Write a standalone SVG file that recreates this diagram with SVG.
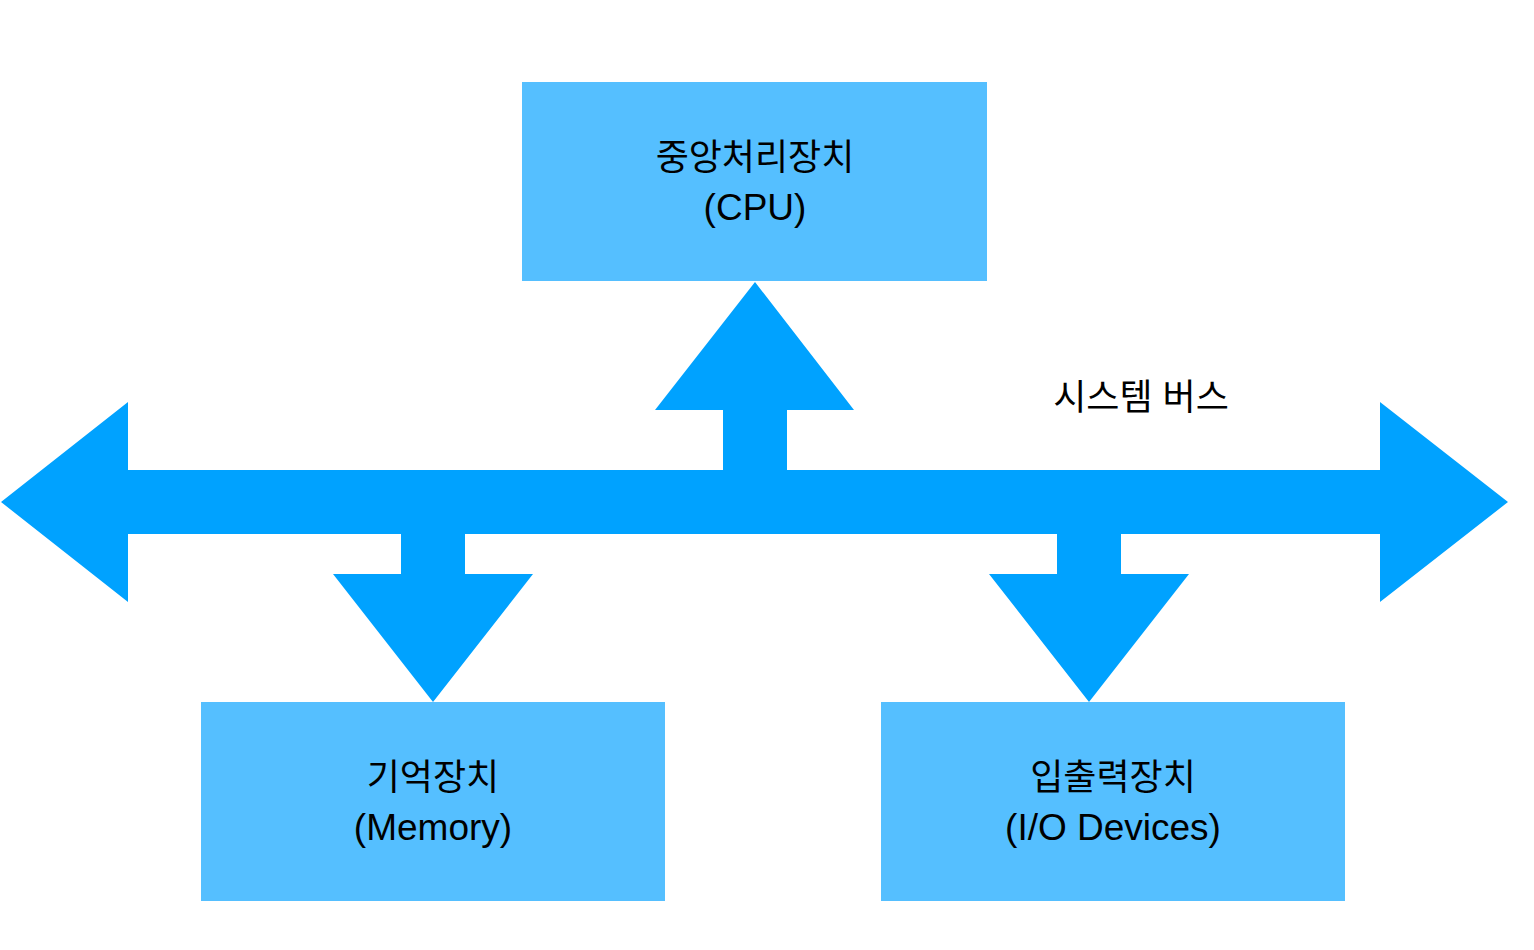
<svg xmlns="http://www.w3.org/2000/svg" width="1534" height="950" viewBox="0 0 1534 950">
<style>
.box{fill:#55BFFF}
.arr{fill:#00A2FF}
text{font-family:"Liberation Sans","Noto Sans CJK KR",sans-serif;font-size:36px;fill:#000;text-anchor:middle}
.lat{font-size:37px}
</style>
<rect width="1534" height="950" fill="#fff"/>
<g id="connectors">
<polygon class="arr" points="1,502 128,402 128,470 723,470 723,410 655,410 755,282 854,410 787,410 787,470 1380,470 1380,402 1508,502 1380,602 1380,534 1121,534 1121,574 1189,574 1089,702 989,574 1057,574 1057,534 465,534 465,574 533,574 433,702 333,574 401,574 401,534 128,534 128,602"/>
</g>
<g id="cpu">
<rect class="box" x="522" y="82" width="465" height="199"/>
<text x="755" y="170">중앙처리장치</text>
<text class="lat" x="755" y="220">(CPU)</text>
</g>
<g id="memory">
<rect class="box" x="201" y="702" width="464" height="199"/>
<text x="433" y="790">기억장치</text>
<text class="lat" x="433" y="840">(Memory)</text>
</g>
<g id="io">
<rect class="box" x="881" y="702" width="464" height="199"/>
<text x="1113" y="790">입출력장치</text>
<text class="lat" x="1113" y="840">(I/O Devices)</text>
</g>
<g id="bus-label">
<text x="1141" y="410">시스템 버스</text>
</g>
</svg>
